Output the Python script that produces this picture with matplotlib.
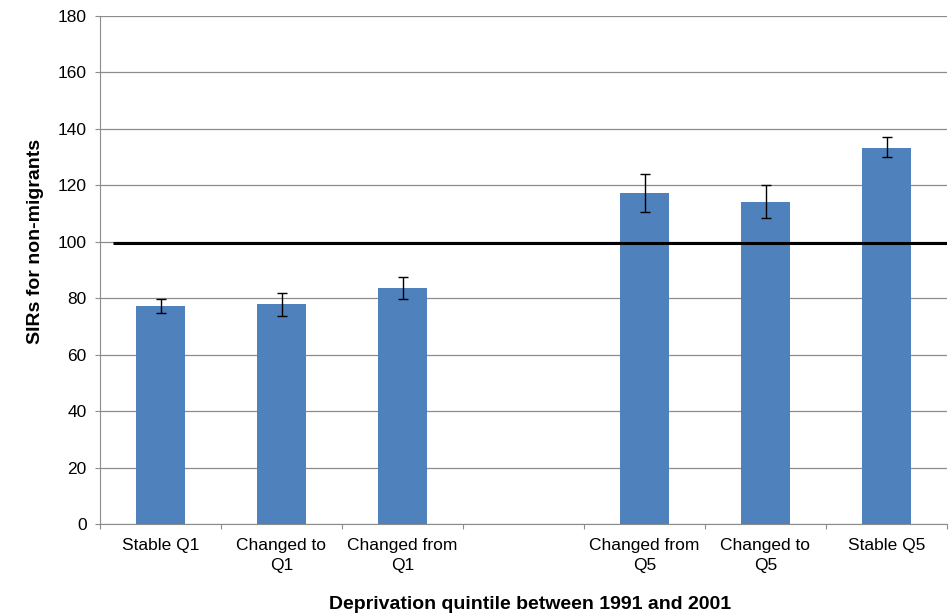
import matplotlib
matplotlib.use("Agg")
import matplotlib.pyplot as plt
import numpy as np

plt.rcParams['font.family'] = ['Liberation Sans', 'DejaVu Sans']

categories = ["Stable Q1", "Changed to\nQ1", "Changed from\nQ1", "",
              "Changed from\nQ5", "Changed to\nQ5", "Stable Q5"]
sir = [77.3, 77.9, 83.5, None, 117.2, 114.1, 133.4]
ci_low = [74.7, 73.7, 79.8, None, 110.5, 108.4, 130.0]
ci_high = [79.6, 82.0, 87.4, None, 124.0, 120.0, 137.0]
reference_level = 99.6
y_ticks = list(range(0, 181, 20))

fig = plt.figure(figsize=(9.51, 6.13), dpi=100)
ax = fig.add_axes([100/951, 1-524/613, 847/951, 508/613])

idx = [i for i, v in enumerate(sir) if v is not None]
vals = np.array([sir[i] for i in idx])
lo = np.array([ci_low[i] for i in idx])
hi = np.array([ci_high[i] for i in idx])

ax.bar(idx, vals, width=0.4, color="#4F81BD", zorder=2)
ax.errorbar(idx, vals, yerr=[vals - lo, hi - vals], fmt="none",
            ecolor="black", elinewidth=1, capsize=3.5, capthick=1, zorder=3)

ax.hlines(reference_level, -0.39, 6.5, color="black", linewidth=2.2, zorder=4)

ax.set_xlim(-0.5, 6.5)
ax.set_ylim(0, 180)
ax.set_yticks(y_ticks)
ax.yaxis.grid(True, color="#8c8c8c", linewidth=0.9, zorder=0)
ax.set_axisbelow(True)

ax.set_xticks(np.arange(-0.5, 7, 1))
ax.set_xticklabels([])
ax.set_xticks(range(len(categories)), minor=True)
ax.set_xticklabels(categories, minor=True, fontsize=12.5, linespacing=1.45)
ax.tick_params(axis="x", which="minor", length=0, pad=10)
ax.tick_params(axis="x", which="major", length=3.6, color="#8c8c8c")
ax.tick_params(axis="y", length=3.6, color="#8c8c8c", labelsize=12.5, pad=6)

for s in ["top", "right"]:
    ax.spines[s].set_visible(False)
for s in ["left", "bottom"]:
    ax.spines[s].set_color("#8c8c8c")

ax.set_ylabel("SIRs for non-migrants", fontsize=14, fontweight="bold")
ax.yaxis.set_label_coords(-0.066, 0.557)
ax.set_xlabel("Deprivation quintile between 1991 and 2001", fontsize=14,
              fontweight="bold")
ax.xaxis.set_label_coords(0.508, -0.142)

fig.savefig("out.png", dpi=100)
